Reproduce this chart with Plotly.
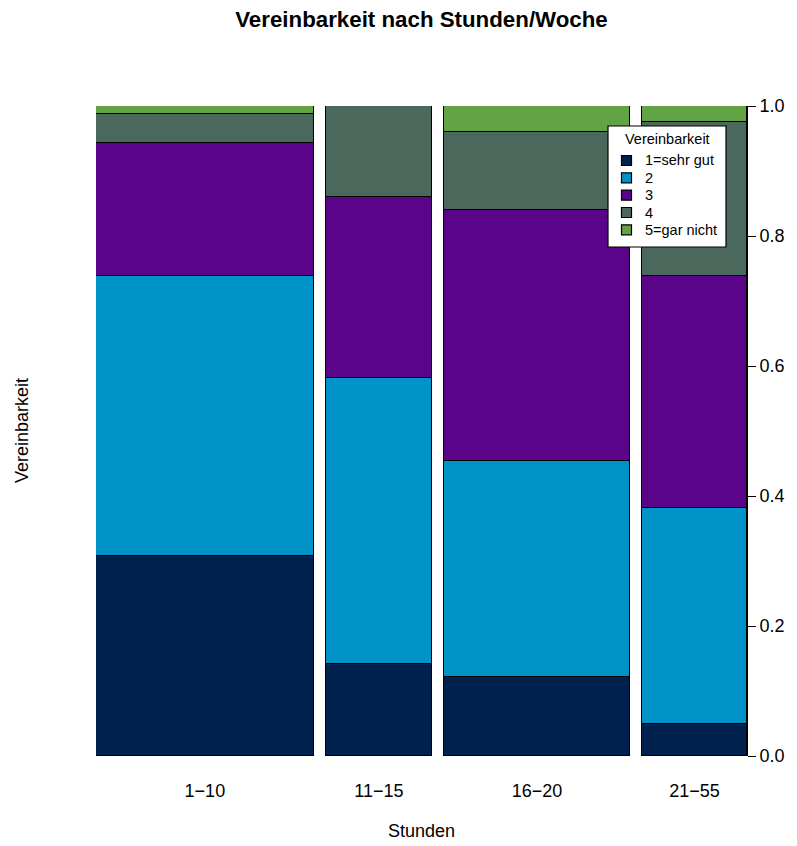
import plotly.graph_objects as go

# ---- data ----
groups = ["1\u221210", "11\u221215", "16\u221220", "21\u221255"]
group_share = [0.3545, 0.1724, 0.3024, 0.1707]   # bar widths (share of respondents)
levels = ["1=sehr gut", "2", "3", "4", "5=gar nicht"]
lvl1 = [0.308, 0.1415, 0.1215, 0.049]
lvl2 = [0.430, 0.4400, 0.3325, 0.3325]
lvl3 = [0.205, 0.2785, 0.3860, 0.3565]
lvl4 = [0.045, 0.1400, 0.1195, 0.2370]
lvl5 = [0.012, 0.0000, 0.0405, 0.0250]
series = [lvl1, lvl2, lvl3, lvl4, lvl5]
colors = ["#00214D", "#0093C7", "#5A0489", "#4B685D", "#62A445"]

# ---- layout geometry ----
W, H = 797, 846
L, R, T, B = 96, 747, 106, 756
gap = 0.02
total = sum(group_share)
widths = [s / total for s in group_share]
centers = []
pos = 0.0
for w in widths:
    centers.append(pos + w / 2)
    pos += w + gap
xmax = pos - gap

def px(x):
    return (x - L) / (R - L)

def py(y):
    return (B - y) / (B - T)

fig = go.Figure()
for name, vals, col in zip(levels, series, colors):
    fig.add_trace(go.Bar(
        x=centers, y=vals, width=widths, name=name,
        marker=dict(color=col, line=dict(color="black", width=1.3)),
        showlegend=False,
    ))

font = "Liberation Sans, Arial, Helvetica, sans-serif"
shapes = []
annotations = []

# manual legend
lx0, ly0, lx1, ly1 = 608, 126, 726, 247
shapes.append(dict(type="rect", xref="paper", yref="paper",
                   x0=px(lx0), x1=px(lx1), y0=py(ly1), y1=py(ly0),
                   fillcolor="white", line=dict(color="black", width=1.2), layer="above"))
annotations.append(dict(text="Vereinbarkeit", xref="paper", yref="paper",
                        x=px(667), y=py(138.5), xanchor="center", yanchor="middle",
                        showarrow=False, font=dict(size=14.5, color="black", family=font)))
row_y = [160.5, 177.8, 195.2, 212.5, 229.8]
for name, col, ry in zip(levels, colors, row_y):
    shapes.append(dict(type="rect", xref="paper", yref="paper",
                       x0=px(621.5), x1=px(631.5), y0=py(ry + 5), y1=py(ry - 5),
                       fillcolor=col, line=dict(color="black", width=1.2), layer="above"))
    annotations.append(dict(text=name, xref="paper", yref="paper",
                            x=px(643), y=py(ry), xanchor="left", yanchor="middle",
                            showarrow=False, font=dict(size=14.5, color="black", family=font)))

annotations.append(dict(text="Stunden", xref="paper", yref="paper",
                        x=px(421.5), y=py(831), xanchor="center", yanchor="middle",
                        showarrow=False, font=dict(size=18, color="black", family=font)))
annotations.append(dict(text="Vereinbarkeit", xref="paper", yref="paper",
                        x=px(22), y=py(431), xanchor="center", yanchor="middle",
                        textangle=-90, showarrow=False,
                        font=dict(size=18, color="black", family=font)))

fig.update_layout(
    width=W, height=H,
    margin=dict(l=L, r=W - R, t=T, b=H - B, pad=0),
    barmode="stack", bargap=0,
    paper_bgcolor="white", plot_bgcolor="white",
    font=dict(family=font, size=18, color="black"),
    title=dict(text="<b>Vereinbarkeit nach Stunden/Woche</b>", x=0.5 * (L + R) / W,
               xanchor="center", y=1 - 19.5 / H, yanchor="middle",
               font=dict(size=22.3, family=font, color="black")),
    shapes=shapes, annotations=annotations,
    showlegend=False,
)
fig.update_xaxes(range=[0, xmax], tickvals=centers, ticktext=groups,
                 showgrid=False, zeroline=False, showline=False, ticks="",
                 ticklabelstandoff=22, tickfont=dict(size=18))
fig.update_yaxes(range=[0, 1], side="right", tickvals=[0, 0.2, 0.4, 0.6, 0.8, 1.0],
                 ticktext=["0.0", "0.2", "0.4", "0.6", "0.8", "1.0"],
                 showgrid=False, zeroline=False, showline=True, linecolor="black",
                 linewidth=1, ticks="outside", ticklen=8, tickcolor="black",
                 tickwidth=1, tickfont=dict(size=18))

fig.write_html("out.html", config={"displayModeBar": False},
               post_script="document.body.style.margin='0';")
